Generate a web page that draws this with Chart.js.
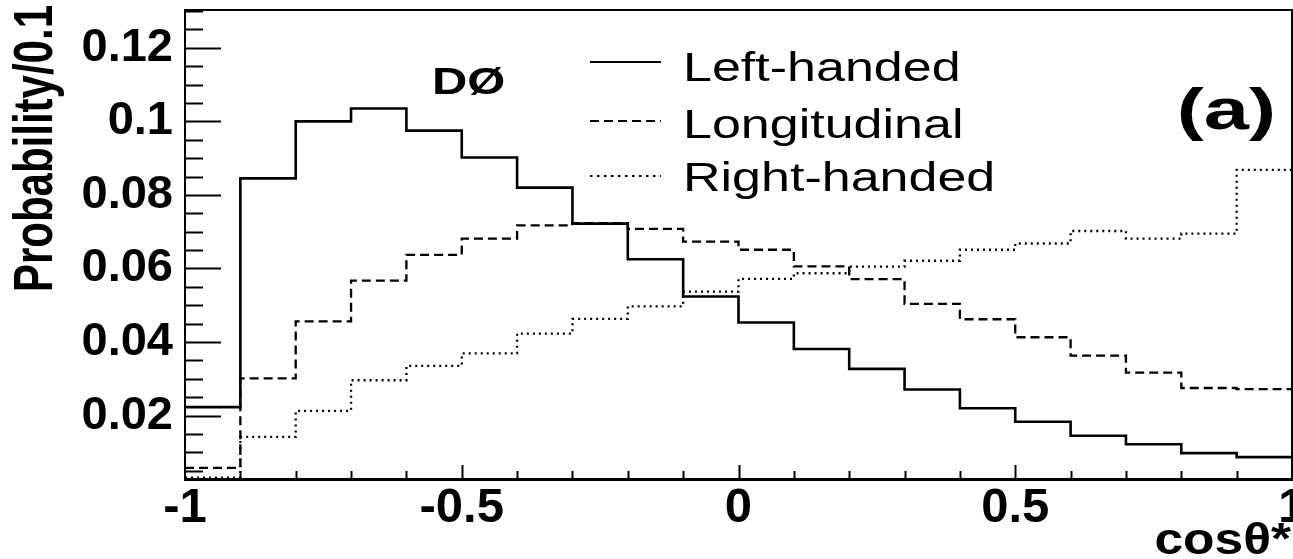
<!DOCTYPE html>
<html>
<head>
<meta charset="utf-8">
<script src="https://cdn.jsdelivr.net/npm/chart.js@4.4.1/dist/chart.umd.min.js"></script>
<style>
    html, body { margin: 0; padding: 0; background: #fff; }
    #wrap { width: 1293px; height: 559px; }
</style>
</head>
<body>
<div id="wrap"><canvas id="chart"></canvas></div>
<script>
/* ----------------------------------------------------------------------
   DATA (probability per 0.1 bin of cos theta*)
---------------------------------------------------------------------- */
const binLow = [-1.0, -0.9, -0.8, -0.7, -0.6, -0.5, -0.4, -0.3, -0.2, -0.1,
                 0.0,  0.1,  0.2,  0.3,  0.4,  0.5,  0.6,  0.7,  0.8,  0.9];
const binHigh = 1.0;

const leftHanded   = [0.0223, 0.0845, 0.1000, 0.1035, 0.0975, 0.0902, 0.0820, 0.0722, 0.0625, 0.0524,
                      0.0453, 0.0381, 0.0327, 0.0271, 0.0220, 0.0183, 0.0145, 0.0122, 0.0098, 0.0087];
const longitudinal = [0.0058, 0.0301, 0.0456, 0.0567, 0.0637, 0.0681, 0.0717, 0.0723, 0.0708, 0.0673,
                      0.0651, 0.0606, 0.0571, 0.0504, 0.0462, 0.0413, 0.0363, 0.0317, 0.0275, 0.0272];
const rightHanded  = [0.0031, 0.0142, 0.0213, 0.0296, 0.0335, 0.0369, 0.0423, 0.0463, 0.0497, 0.0537,
                      0.0572, 0.0587, 0.0605, 0.0621, 0.0651, 0.0668, 0.0702, 0.0681, 0.0695, 0.0868];

const seriesNames = ["Left-handed", "Longitudinal", "Right-handed"];

const xTicks = [-1, -0.5, 0, 0.5, 1];
const xTickLabels = ["-1", "-0.5", "0", "0.5", "1"];
const yTicks = [0.02, 0.04, 0.06, 0.08, 0.1, 0.12];
const yTickLabels = ["0.02", "0.04", "0.06", "0.08", "0.1", "0.12"];
const yMin = 0.00275;
const yMax = 0.1303;

const xTitle = "cosθ*";
const yTitle = "Probability/0.1";

/* histogram -> step points (left edge of each bin + closing edge) */
function toSteps(vals) {
    const pts = binLow.map((x, i) => ({ x: x, y: vals[i] }));
    pts.push({ x: binHigh, y: vals[vals.length - 1] });
    return pts;
}

const FONT = "'Liberation Sans', Arial, Helvetica, sans-serif";
Chart.defaults.font.family = FONT;
Chart.defaults.color = "#000";

/* text drawn a little wider than the font, like the original figure */
function wideText(ctx, text, x, y, font, sx, align, rot) {
    ctx.save();
    ctx.font = font;
    ctx.fillStyle = "#000";
    ctx.textBaseline = "alphabetic";
    ctx.textAlign = align || "left";
    ctx.translate(x, y);
    if (rot) {
        ctx.rotate(rot);
        ctx.scale(1, sx);
    } else {
        ctx.scale(sx, 1);
    }
    ctx.fillText(text, 0, 0);
    ctx.restore();
}

/* no extra room for overhanging labels: frame fills the canvas like the original */
function noPad(s) {
    s.paddingLeft = 0;
    s.paddingRight = 0;
    s.paddingTop = 0;
    s.paddingBottom = 0;
}

/* ----------------------------------------------------------------------
   FRAME + INWARD TICKS (ROOT style)
---------------------------------------------------------------------- */
const framePlugin = {
    id: "frame",
    afterDatasetsDraw(chart) {
        const { ctx, chartArea: a, scales } = chart;
        const xs = scales.x, ys = scales.y;
        ctx.save();
        ctx.strokeStyle = "#000";
        ctx.lineWidth = 2;
        ctx.setLineDash([]);

        // top + right edges
        ctx.beginPath();
        ctx.moveTo(a.left, a.top);
        ctx.lineTo(a.right, a.top);
        ctx.lineTo(a.right, a.bottom);
        ctx.stroke();

        // y ticks: major every 0.02, minor every 0.005
        for (let k = 1; k <= 26; k++) {
            const v = k * 0.005;
            if (v < yMin || v > yMax) continue;
            const major = k % 4 === 0;
            const py = Math.round(ys.getPixelForValue(v)) + 0.5;
            ctx.beginPath();
            ctx.moveTo(a.left, py);
            ctx.lineTo(a.left + (major ? 36 : 18), py);
            ctx.stroke();
        }

        // x ticks: every 0.1, longer at multiples of 0.5
        for (let k = -9; k <= 9; k++) {
            const px = Math.round(xs.getPixelForValue(k / 10)) + 0.5;
            const major = k % 5 === 0;
            ctx.beginPath();
            ctx.moveTo(px, a.bottom);
            ctx.lineTo(px, a.bottom - (major ? 14 : 8));
            ctx.stroke();
        }
        ctx.restore();
    }
};

/* ----------------------------------------------------------------------
   LEGEND + LABELS
---------------------------------------------------------------------- */
const notesPlugin = {
    id: "notes",
    afterDraw(chart) {
        const ctx = chart.ctx;
        const rowsLine = [62, 121, 176];
        const rowsText = [81, 138, 191];

        chart.data.datasets.forEach((ds, i) => {
            ctx.save();
            ctx.strokeStyle = "#000";
            ctx.lineWidth = 2;
            ctx.setLineDash(ds.legendDash);
            ctx.beginPath();
            ctx.moveTo(590, rowsLine[i]);
            ctx.lineTo(661, rowsLine[i]);
            ctx.stroke();
            ctx.restore();
            wideText(ctx, ds.label, 683, rowsText[i], "40px " + FONT, 1.3);
        });

        wideText(ctx, "DØ", 432, 94, "bold 37px " + FONT, 1.32);
        wideText(ctx, "(a)", 1276, 129, "bold 58px " + FONT, 1.4, "right");

        // axis titles
        wideText(ctx, xTitle, 1291, 554, "bold 44px " + FONT, 1.17, "right");
        wideText(ctx, yTitle, 52, 5, "bold 42px " + FONT, 1.3, "right", -Math.PI / 2);
    }
};

const dashes = [[], [9, 5], [2, 4]];
const legendDashes = [[], [9, 5], [2.5, 4.5]];

new Chart(document.getElementById("chart"), {
    type: "line",
    data: {
        datasets: [leftHanded, longitudinal, rightHanded].map((vals, i) => ({
            label: seriesNames[i],
            data: toSteps(vals),
            stepped: "before",
            borderColor: "#000",
            borderWidth: i === 0 ? 2.6 : 2.3,
            borderDash: dashes[i],
            legendDash: legendDashes[i],
            pointRadius: 0,
            fill: false
        }))
    },
    options: {
        responsive: true,
        maintainAspectRatio: false,
        animation: false,
        devicePixelRatio: 1,
        layout: { padding: { top: 10, right: 1, left: 0, bottom: 0 } },
        plugins: {
            legend: { display: false },
            tooltip: { enabled: false }
        },
        scales: {
            x: {
                type: "linear",
                min: -1,
                max: 1,
                afterBuildTicks: s => { s.ticks = xTicks.map(v => ({ value: v })); },
                afterFit: s => { s.height = 80; noPad(s); },
                grid: { display: false, drawTicks: false },
                border: { display: true, color: "#000", width: 3 },
                ticks: {
                    autoSkip: false,
                    maxRotation: 0,
                    padding: 0,
                    color: "#000",
                    font: { size: 49, weight: "bold" },
                    callback: (v, i) => xTickLabels[i]
                }
            },
            y: {
                type: "linear",
                min: yMin,
                max: yMax,
                afterBuildTicks: s => { s.ticks = yTicks.map(v => ({ value: v })); },
                afterFit: s => { s.width = 185; noPad(s); },
                grid: { display: false, drawTicks: false },
                border: { display: true, color: "#000", width: 2 },
                ticks: {
                    padding: 12,
                    color: "#000",
                    font: { size: 47, weight: "bold" },
                    callback: (v, i) => yTickLabels[i]
                }
            }
        }
    },
    plugins: [framePlugin, notesPlugin]
});
</script>
</body>
</html>
